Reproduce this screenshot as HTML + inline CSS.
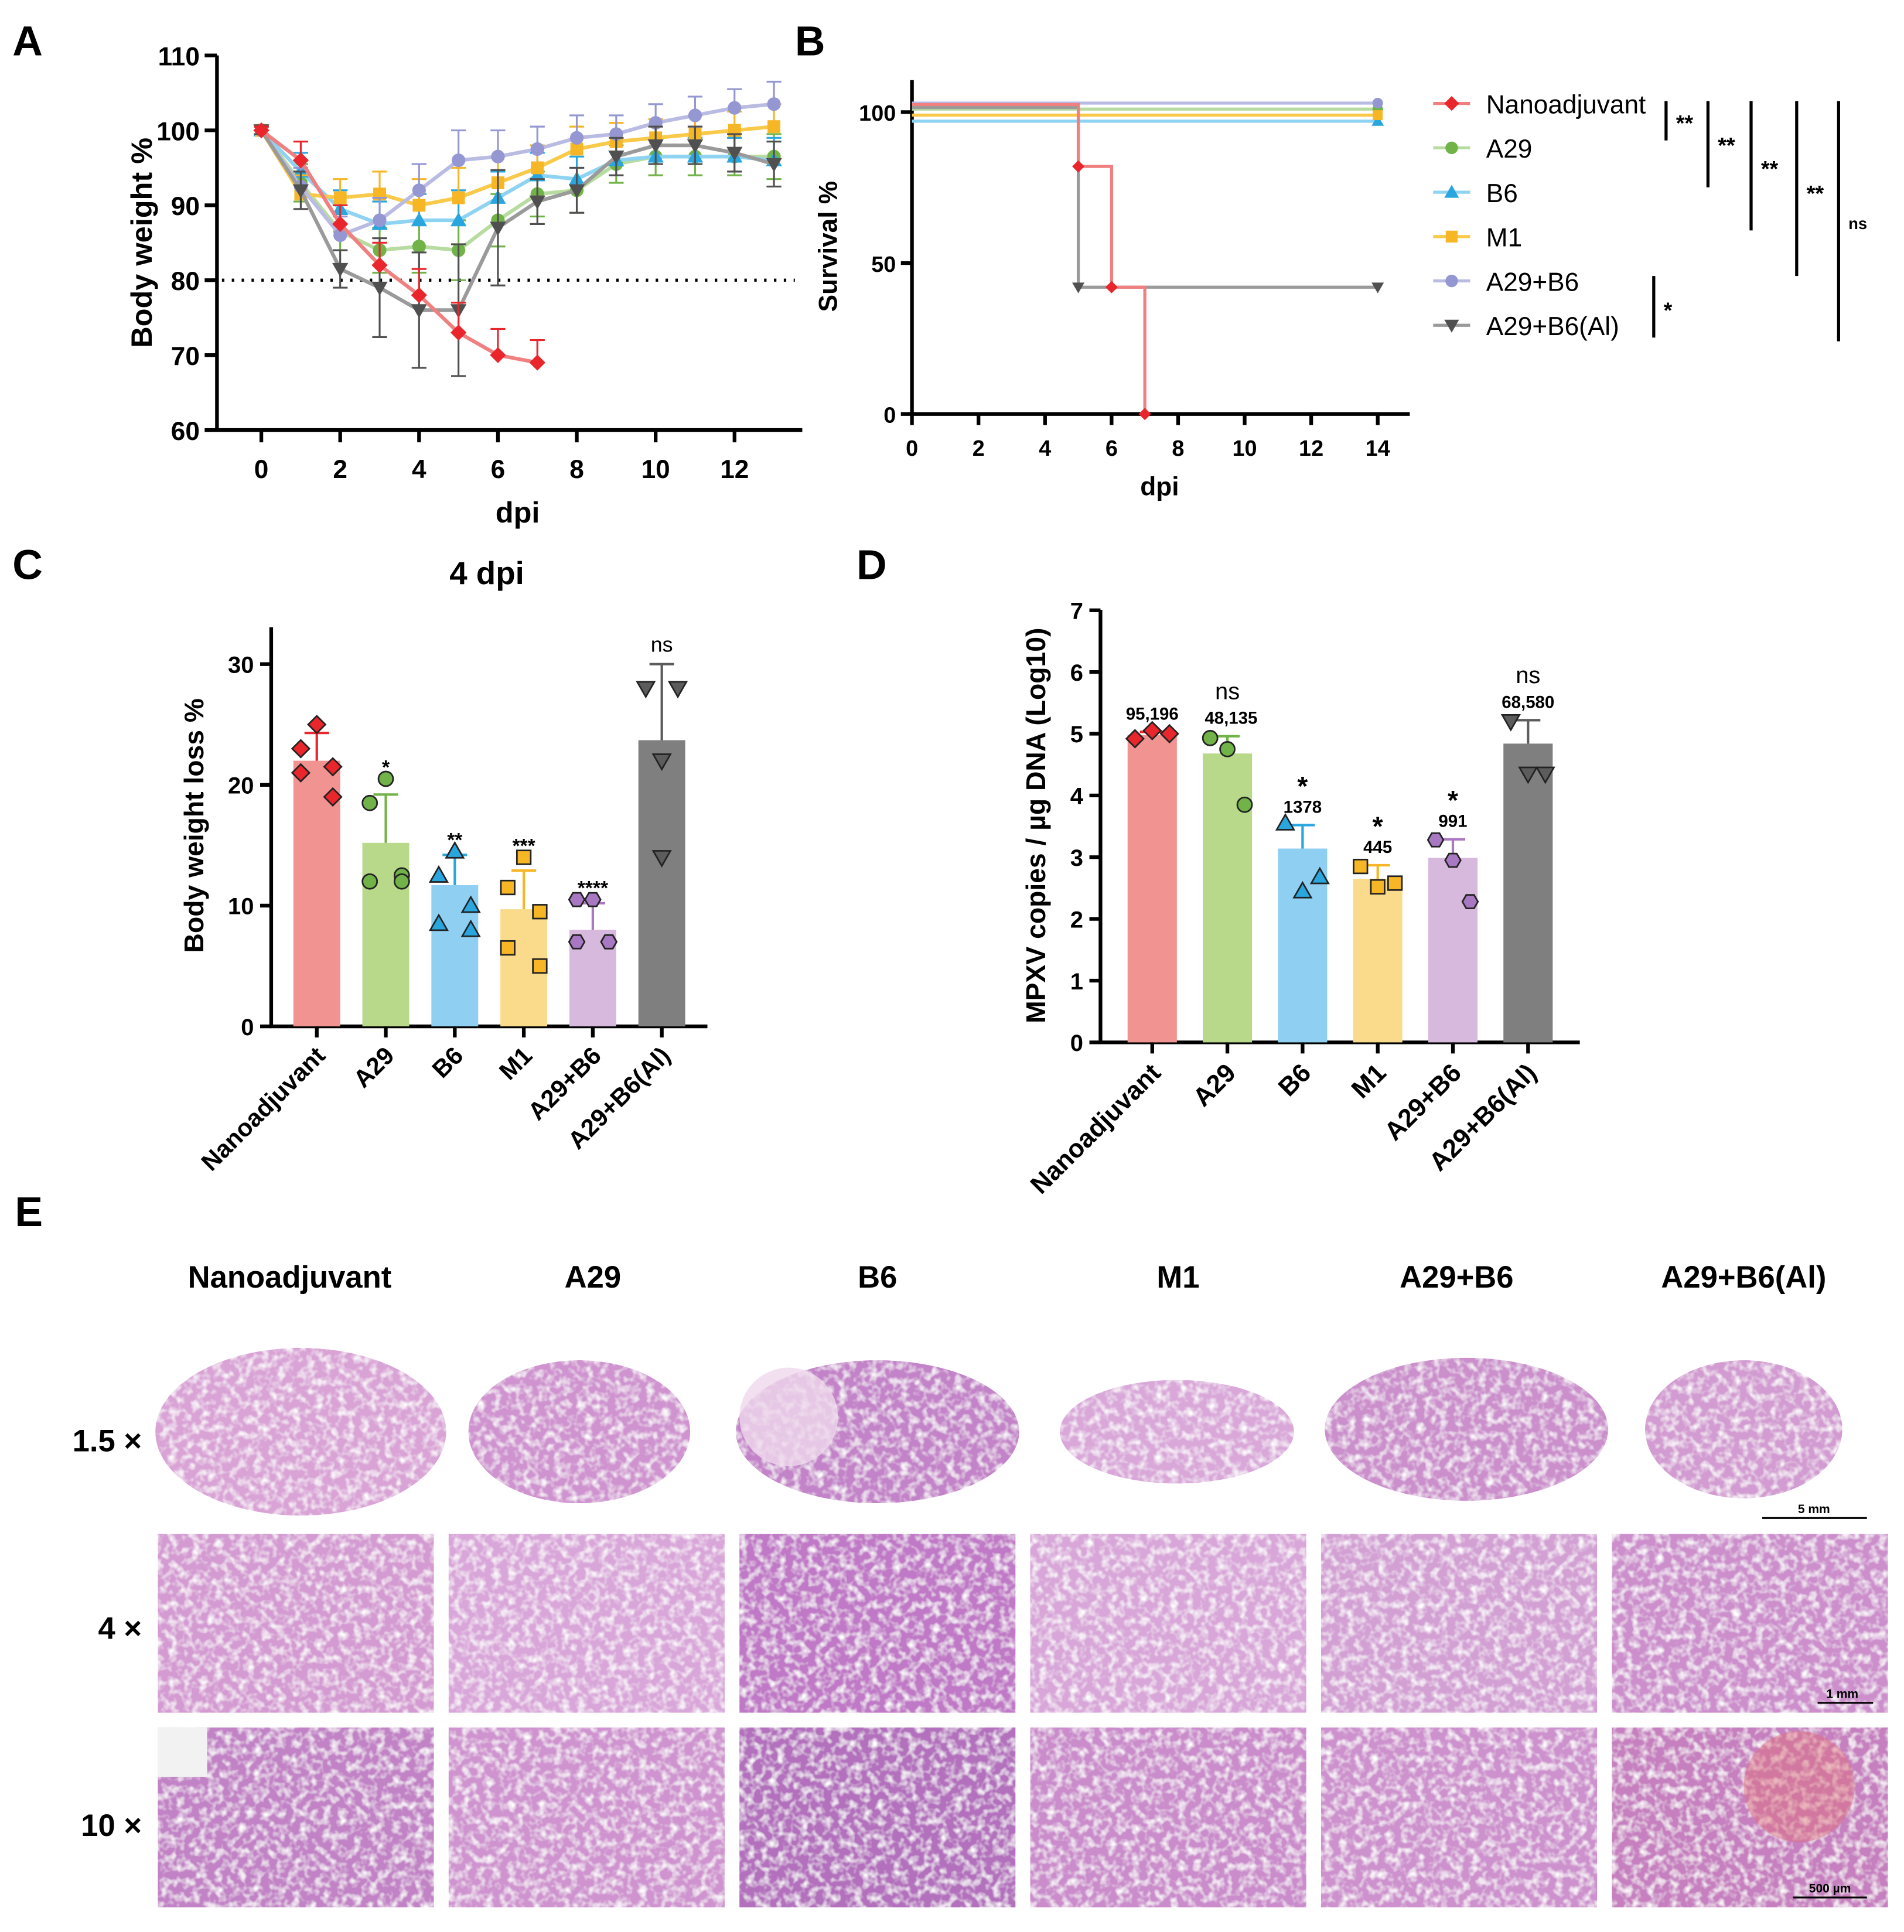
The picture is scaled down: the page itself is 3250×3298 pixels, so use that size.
<!DOCTYPE html>
<html><head><meta charset="utf-8">
<style>
html,body{margin:0;padding:0;background:#fff;}
svg{display:block;font-family:"Liberation Sans",Arial,sans-serif;}
</style></head>
<body>
<svg id="fig" width="3250" height="3298" viewBox="0 0 1545 1568" xmlns="http://www.w3.org/2000/svg">
<defs>
<filter id="tex" x="0" y="0" width="100%" height="100%">
<feTurbulence type="fractalNoise" baseFrequency="0.16" numOctaves="2" seed="3" result="n"/>
<feColorMatrix in="n" type="matrix" values="0 0 0 0 1  0 0 0 0 1  0 0 0 0 1  0 0 0 -2.2 1.25" result="holes"/>
<feComposite in="holes" in2="SourceGraphic" operator="atop"/>
</filter>
</defs>
<g id="panelA"></g>
<g id="panelB"></g>
<g id="panelC"></g>
<g id="panelD"></g>
<g id="panelE"></g>
</svg>
<script>
const NS="http://www.w3.org/2000/svg";
function mk(parent,tag,attrs,text){const e=document.createElementNS(NS,tag);for(const k in attrs)e.setAttribute(k,attrs[k]);if(text!==undefined)e.textContent=text;parent.appendChild(e);return e;}

const groups=["Nanoadjuvant","A29","B6","M1","A29+B6","A29+B6(Al)"];
const colors=["#e8262b","#71b349","#2aa6df","#f6b625","#9497d1","#505050"];
const lineColors=["#f08080","#b8dca0","#8fd3f2","#f9c94a","#b9bbe3","#9a9a9a"];
const daysA=[0,1,2,3,4,5,6,7,8,9,10,11,12,13];
const wNano=[100,96,87.5,82,78,73,70,69];
const wA29=[100,93,86.5,84,84.5,84,88,91.5,92,95.5,96.5,96.5,96.5,96.5];
const wB6=[100,94.5,89.5,87.5,88,88,91,94,93.5,96,96.5,96.5,96.5,96];
const wM1=[100,91.5,91,91.5,90,91,93,95,97.5,98.5,99,99.5,100,100.5];
const wA29B6=[100,92.5,86,88,92,96,96.5,97.5,99,99.5,101,102,103,103.5];
const wAl=[100,92,81.5,79,76,76,87,90.5,92,96.5,98,98,97,95.5];
const errA=[0.5,2.5,2.5,3,3.5,4,3.5,3,3,2.5,2.5,2.5,2.5,3];
const ticksAx=[0,2,4,6,8,10,12];
const ticksAy=[60,70,80,90,100,110];

const survDays=[0,5,6,7];
const survNano=[100,82,42,0];
const survAlDays=[0,5,14];
const survAl=[100,42,42];
const survFlat=[101,97,99,103];
const ticksBx=[0,2,4,6,8,10,12,14];
const ticksBy=[0,50,100];

const lossMean=[22,15.2,11.7,9.7,8,23.7];
const lossErr=[2.3,4,2.5,3.2,2.2,6.3];
const lossPts=[[25,23,21.5,21,19],[20.5,18.5,12.5,12,12],[14.5,12.5,10,8.5,8],[14,11.5,9.5,6.5,5],[10.5,10.5,7,7,7],[28,28,22,14]];
const lossSig=["","*","**","***","****","ns"];
const ticksCy=[0,10,20,30];

const mpxMean=[4.98,4.68,3.14,2.65,2.99,4.84];
const mpxErr=[0.05,0.28,0.38,0.22,0.3,0.38];
const mpxPts=[[4.92,5.05,5.0],[4.93,4.75,3.85],[3.55,2.45,2.68],[2.85,2.52,2.58],[3.28,2.95,2.28],[5.2,4.35,4.35]];
const mpxLabel=["95,196","48,135","1378","445","991","68,580"];
const mpxSig=["","ns","*","*","*","ns"];
const ticksDy=[0,1,2,3,4,5,6,7];

const colNames=["Nanoadjuvant","A29","B6","M1","A29+B6","A29+B6(Al)"];

function marker(g,shape,x,y,r,fill,stroke,sw){
  let e;
  if(shape==="diamond") e=mk(g,"polygon",{points:`${x},${y-r} ${x+r},${y} ${x},${y+r} ${x-r},${y}`});
  else if(shape==="circle") e=mk(g,"circle",{cx:x,cy:y,r:r*0.85});
  else if(shape==="tri") e=mk(g,"polygon",{points:`${x},${y-r} ${x+r},${y+r*0.75} ${x-r},${y+r*0.75}`});
  else if(shape==="square") e=mk(g,"rect",{x:x-r*0.8,y:y-r*0.8,width:r*1.6,height:r*1.6});
  else if(shape==="hex"){let p=[];for(let i=0;i<6;i++){const a=Math.PI/3*i;p.push((x+r*0.9*Math.cos(a))+","+(y+r*0.9*Math.sin(a)));}e=mk(g,"polygon",{points:p.join(" ")});}
  else e=mk(g,"polygon",{points:`${x-r},${y-r*0.75} ${x+r},${y-r*0.75} ${x},${y+r}`});
  e.setAttribute("fill",fill);e.setAttribute("stroke",stroke);e.setAttribute("stroke-width",sw);
  
  
  return e;
}
const shapes=["diamond","circle","tri","square","hex","invtri"];
const shapesA=["diamond","circle","tri","square","circle","invtri"];

(function(){
  const g=document.getElementById("panelA");
  const X=d=>212+d*32, Y=v=>349-(v-60)*6.08;
  mk(g,"text",{x:10,y:45,"font-size":34,"font-weight":"bold",},"A");
  mk(g,"line",{x1:176,y1:45,x2:176,y2:349,stroke:"#000","stroke-width":3,});
  mk(g,"line",{x1:176,y1:349,x2:651,y2:349,stroke:"#000","stroke-width":3,});
  ticksAy.forEach(v=>{mk(g,"line",{x1:166,y1:Y(v),x2:176,y2:Y(v),stroke:"#000","stroke-width":3});
    const t=mk(g,"text",{x:162,y:Y(v)+8,"font-size":21,"font-weight":"bold","text-anchor":"end"},v);});
  ticksAx.forEach(v=>{mk(g,"line",{x1:X(v),y1:349,x2:X(v),y2:359,stroke:"#000","stroke-width":3});
    const t=mk(g,"text",{x:X(v),y:388,"font-size":21,"font-weight":"bold","text-anchor":"middle"},v);});
  mk(g,"text",{x:420,y:424,"font-size":24,"font-weight":"bold","text-anchor":"middle",},"dpi");
  mk(g,"text",{x:0,y:0,"font-size":24,"font-weight":"bold","text-anchor":"middle",transform:"translate(123,197) rotate(-90)",},"Body weight %");
  mk(g,"line",{x1:180,y1:Y(80),x2:645,y2:Y(80),stroke:"#000","stroke-width":2.5,"stroke-dasharray":"2,6",});
  const series=[wNano,wA29,wB6,wM1,wA29B6,wAl];
  const order=[1,2,3,4,5,0];
  order.forEach(i=>{
    const s=series[i];const sg=mk(g,"g",{});
    
    
    s.forEach((v,j)=>{const e=errA[j]*(i===5&&j>=3&&j<=6?2.2:1);
      mk(sg,"line",{x1:X(daysA[j]),y1:Y(v),x2:X(daysA[j]),y2:Y(v+e),stroke:colors[i],"stroke-width":1.5});
      mk(sg,"line",{x1:X(daysA[j])-6,y1:Y(v+e),x2:X(daysA[j])+6,y2:Y(v+e),stroke:colors[i],"stroke-width":1.5});
      if(i===5||i===1){mk(sg,"line",{x1:X(daysA[j]),y1:Y(v),x2:X(daysA[j]),y2:Y(v-e),stroke:colors[i],"stroke-width":1.5});
        mk(sg,"line",{x1:X(daysA[j])-6,y1:Y(v-e),x2:X(daysA[j])+6,y2:Y(v-e),stroke:colors[i],"stroke-width":1.5});}
    });
    mk(sg,"polyline",{points:s.map((v,j)=>X(daysA[j])+","+Y(v)).join(" "),fill:"none",stroke:lineColors[i],"stroke-width":3});
    s.forEach((v,j)=>marker(sg,shapesA[i],X(daysA[j]),Y(v),6.5,colors[i],colors[i],0));
  });
})();

(function(){
  const g=document.getElementById("panelB");
  const X=d=>740+d*27, Y=v=>336-v*2.45;
  mk(g,"text",{x:645,y:45,"font-size":34,"font-weight":"bold",},"B");
  mk(g,"line",{x1:740,y1:65,x2:740,y2:337,stroke:"#000","stroke-width":3,});
  mk(g,"line",{x1:739,y1:336,x2:1144,y2:336,stroke:"#000","stroke-width":3,});
  ticksBy.forEach(v=>{mk(g,"line",{x1:731,y1:Y(v),x2:740,y2:Y(v),stroke:"#000","stroke-width":3});
    const t=mk(g,"text",{x:727,y:Y(v)+7,"font-size":18,"font-weight":"bold","text-anchor":"end"},v);});
  ticksBx.forEach(v=>{mk(g,"line",{x1:X(v),y1:336,x2:X(v),y2:345,stroke:"#000","stroke-width":3});
    const t=mk(g,"text",{x:X(v),y:370,"font-size":18,"font-weight":"bold","text-anchor":"middle"},v);});
  mk(g,"text",{x:941,y:402,"font-size":21,"font-weight":"bold","text-anchor":"middle",},"dpi");
  mk(g,"text",{x:0,y:0,"font-size":21,"font-weight":"bold","text-anchor":"middle",transform:"translate(679,200) rotate(-90)",},"Survival %");
  [1,2,3,4].forEach((gi,k)=>{const v=survFlat[k];
    const l=mk(g,"line",{x1:X(0),y1:Y(v),x2:X(14),y2:Y(v),stroke:lineColors[gi],"stroke-width":2.5});
    
    marker(g,shapesA[gi],X(14),Y(v),5,colors[gi],colors[gi],0);});
  function step(days,vals,col,gi){let pts=[];
    for(let j=0;j<days.length;j++){if(j>0)pts.push(X(days[j])+","+Y(vals[j-1]));pts.push(X(days[j])+","+Y(vals[j]));}
    const l=mk(g,"polyline",{points:pts.join(" "),fill:"none",stroke:col,"stroke-width":2.5});
    
    days.forEach((d,j)=>{if(j>0)marker(g,shapesA[gi],X(d),Y(vals[j]),5,colors[gi],colors[gi],0);});}
  step(survAlDays,survAl.map((v,j)=>j===0?101.5:v),lineColors[5],5);
  step(survDays,survNano.map((v,j)=>j===0?102.5:v),lineColors[0],0);
  const ly=[84,120,156,192,228,264];
  groups.forEach((n,i)=>{const lg=mk(g,"g",{});
    mk(lg,"line",{x1:1163,y1:ly[i],x2:1193,y2:ly[i],stroke:lineColors[i],"stroke-width":2.5});
    marker(lg,shapesA[i],1178,ly[i],6,colors[i],colors[i],0);
    mk(lg,"text",{x:1206,y:ly[i]+8,"font-size":21},n);});
  const br=[[1352,82,114,"**",1360,100],[1386,82,152,"**",1394,118],[1421,82,187,"**",1429,137],[1458,82,224,"**",1466,157],[1492,82,277,"ns",1500,180],[1342,224,274,"*",1350,252]];
  br.forEach(b=>{mk(g,"line",{x1:b[0],y1:b[1],x2:b[0],y2:b[2],stroke:"#000","stroke-width":2.5});
    const t=mk(g,"text",{x:b[4],y:b[5]+6,"font-size":b[3]==="ns"?13:18,"font-weight":"bold"},b[3]);});
})();

(function(){
  const g=document.getElementById("panelC");
  const Y=v=>833-v*9.8, cx=[257,313,369,425,481,537], bw=38;
  const fills=["#f19390","#b8d98a","#8fd0f2","#fadb8b","#d8b9de","#7f7f7f"];
  const mfill=["#e8262b","#71b349","#2aa6df","#f6b625","#a978c2","#5c5c5c"];
  mk(g,"text",{x:10,y:470,"font-size":34,"font-weight":"bold",},"C");
  mk(g,"text",{x:395,y:474,"font-size":26,"font-weight":"bold","text-anchor":"middle",},"4 dpi");
  mk(g,"line",{x1:220,y1:509,x2:220,y2:834,stroke:"#000","stroke-width":3,});
  mk(g,"line",{x1:219,y1:833,x2:574,y2:833,stroke:"#000","stroke-width":3,});
  ticksCy.forEach(v=>{mk(g,"line",{x1:211,y1:Y(v),x2:220,y2:Y(v),stroke:"#000","stroke-width":3});
    const t=mk(g,"text",{x:206,y:Y(v)+7,"font-size":19,"font-weight":"bold","text-anchor":"end"},v);});
  mk(g,"text",{x:0,y:0,"font-size":22,"font-weight":"bold","text-anchor":"middle",transform:"translate(165,670) rotate(-90)",},"Body weight loss %");
  groups.forEach((n,i)=>{
    const b=mk(g,"rect",{x:cx[i]-bw/2,y:Y(lossMean[i]),width:bw,height:Y(0)-Y(lossMean[i]),fill:fills[i]});
    
    const top=lossMean[i]+lossErr[i];
    mk(g,"line",{x1:cx[i],y1:Y(lossMean[i]),x2:cx[i],y2:Y(top),stroke:mfill[i],"stroke-width":2});
    mk(g,"line",{x1:cx[i]-10,y1:Y(top),x2:cx[i]+10,y2:Y(top),stroke:mfill[i],"stroke-width":2});
    const pts=lossPts[i];const offs=pts.length===5?[0,-13,13,-13,13]:[-13,13,0,0];
    pts.forEach((v,j)=>marker(g,shapes[i],cx[i]+offs[j],Y(v),7,mfill[i],"#222",1.3));
    mk(g,"line",{x1:cx[i],y1:833,x2:cx[i],y2:842,stroke:"#000","stroke-width":3});
    const t=mk(g,"text",{x:0,y:0,"font-size":20,"font-weight":"bold","text-anchor":"end",transform:`translate(${cx[i]+8},${858}) rotate(-45)`},n);
    if(lossSig[i]){const hi=Math.max(top,Math.max.apply(null,pts));
      const s=mk(g,"text",{x:cx[i],y:Y(hi)-(lossSig[i]==="ns"?10:4),"font-size":lossSig[i]==="ns"?17:16,"text-anchor":"middle","font-weight":lossSig[i]==="ns"?"normal":"bold"},lossSig[i]);}
  });
})();

(function(){
  const g=document.getElementById("panelD");
  const Y=v=>846-v*50.1, cx=[935,996,1057,1118,1179,1240], bw=40;
  const fills=["#f19390","#b8d98a","#8fd0f2","#fadb8b","#d8b9de","#7f7f7f"];
  const mfill=["#e8262b","#71b349","#2aa6df","#f6b625","#a978c2","#5c5c5c"];
  mk(g,"text",{x:695,y:470,"font-size":34,"font-weight":"bold",},"D");
  mk(g,"line",{x1:893,y1:495,x2:893,y2:847,stroke:"#000","stroke-width":3,});
  mk(g,"line",{x1:892,y1:846,x2:1282,y2:846,stroke:"#000","stroke-width":3,});
  ticksDy.forEach(v=>{mk(g,"line",{x1:884,y1:Y(v),x2:893,y2:Y(v),stroke:"#000","stroke-width":3});
    const t=mk(g,"text",{x:879,y:Y(v)+7,"font-size":19,"font-weight":"bold","text-anchor":"end"},v);});
  mk(g,"text",{x:0,y:0,"font-size":22,"font-weight":"bold","text-anchor":"middle",transform:"translate(848,670) rotate(-90)",},"MPXV copies / µg DNA (Log10)");
  groups.forEach((n,i)=>{
    const b=mk(g,"rect",{x:cx[i]-bw/2,y:Y(mpxMean[i]),width:bw,height:Y(0)-Y(mpxMean[i]),fill:fills[i]});
    
    const top=mpxMean[i]+mpxErr[i];
    mk(g,"line",{x1:cx[i],y1:Y(mpxMean[i]),x2:cx[i],y2:Y(top),stroke:mfill[i],"stroke-width":2});
    mk(g,"line",{x1:cx[i]-10,y1:Y(top),x2:cx[i]+10,y2:Y(top),stroke:mfill[i],"stroke-width":2});
    const offs=[-14,0,14];
    mpxPts[i].forEach((v,j)=>marker(g,shapes[i],cx[i]+offs[j],Y(v),7,mfill[i],"#222",1.3));
    mk(g,"line",{x1:cx[i],y1:846,x2:cx[i],y2:855,stroke:"#000","stroke-width":3});
    const t=mk(g,"text",{x:0,y:0,"font-size":21,"font-weight":"bold","text-anchor":"end",transform:`translate(${cx[i]+8},${872}) rotate(-45)`},n);
    const lab=mk(g,"text",{x:cx[i]+(i===1?3:0),y:Y(top)-10,"font-size":14,"font-weight":"bold","text-anchor":"middle"},mpxLabel[i]);
    if(mpxSig[i]){const s=mk(g,"text",{x:cx[i],y:Y(top)-(mpxSig[i]==="ns"?30:24),"font-size":mpxSig[i]==="ns"?19:22,"text-anchor":"middle","font-weight":mpxSig[i]==="ns"?"normal":"bold"},mpxSig[i]);}
  });
})();

(function(){
  const g=document.getElementById("panelE");
  mk(g,"text",{x:12,y:995,"font-size":34,"font-weight":"bold",},"E");
  const hc=[235,481,712,956,1182,1415];
  colNames.forEach((n,i)=>{const t=mk(g,"text",{x:hc[i],y:1045,"font-size":25,"font-weight":"bold","text-anchor":"middle"},n);});
  [["1.5 ×",1178],["4 ×",1330],["10 ×",1490]].forEach(r=>{const t=mk(g,"text",{x:115,y:r[1],"font-size":25,"font-weight":"bold","text-anchor":"end"},r[0]);});
  const lungs=[[244,1162,118,68,"#d9a3d6"],[470,1162,90,58,"#cf93cf"],[712,1162,115,58,"#c383c8"],[955,1162,95,42,"#d9a8d9"],[1190,1160,115,58,"#cb8fcc"],[1415,1160,80,56,"#d29bd1"]];
  lungs.forEach((l,i)=>{const e=mk(g,"ellipse",{cx:l[0],cy:l[1],rx:l[2],ry:l[3],fill:l[4],filter:"url(#tex)"});});
  mk(g,"ellipse",{cx:640,cy:1150,rx:40,ry:40,fill:"#efd8ec",opacity:0.8});
  mk(g,"line",{x1:1430,y1:1232,x2:1515,y2:1232,stroke:"#000","stroke-width":1.5,});
  mk(g,"text",{x:1472,y:1228,"font-size":10,"font-weight":"bold","text-anchor":"middle"},"5 mm");
  const xs=[128,364,600,836,1072,1308];
  const row2=["#d49bd2","#d9a6d9","#c079c6","#d8a6d8","#d3a0d4","#cc8fcc"];
  const row3=["#c283c6","#cf94cf","#b36fbd","#ca8ccb","#cd91cd","#c67fbf"];
  xs.forEach((x,i)=>{
    let e=mk(g,"rect",{x:x,y:1245,width:224,height:145,fill:row2[i],filter:"url(#tex)"});
    e=mk(g,"rect",{x:x,y:1402,width:224,height:146,fill:row3[i],filter:"url(#tex)"});
  });
  mk(g,"rect",{x:128,y:1402,width:40,height:40,fill:"#f2f2f2"});
  mk(g,"ellipse",{cx:1460,cy:1450,rx:45,ry:45,fill:"#e0707a",opacity:0.45});
  mk(g,"line",{x1:1475,y1:1382,x2:1520,y2:1382,stroke:"#000","stroke-width":1.5});
  mk(g,"text",{x:1495,y:1378,"font-size":10,"font-weight":"bold","text-anchor":"middle"},"1 mm");
  mk(g,"line",{x1:1455,y1:1540,x2:1515,y2:1540,stroke:"#000","stroke-width":1.5});
  mk(g,"text",{x:1485,y:1536,"font-size":10,"font-weight":"bold","text-anchor":"middle"},"500 µm");
})();
</script>
</body></html>
